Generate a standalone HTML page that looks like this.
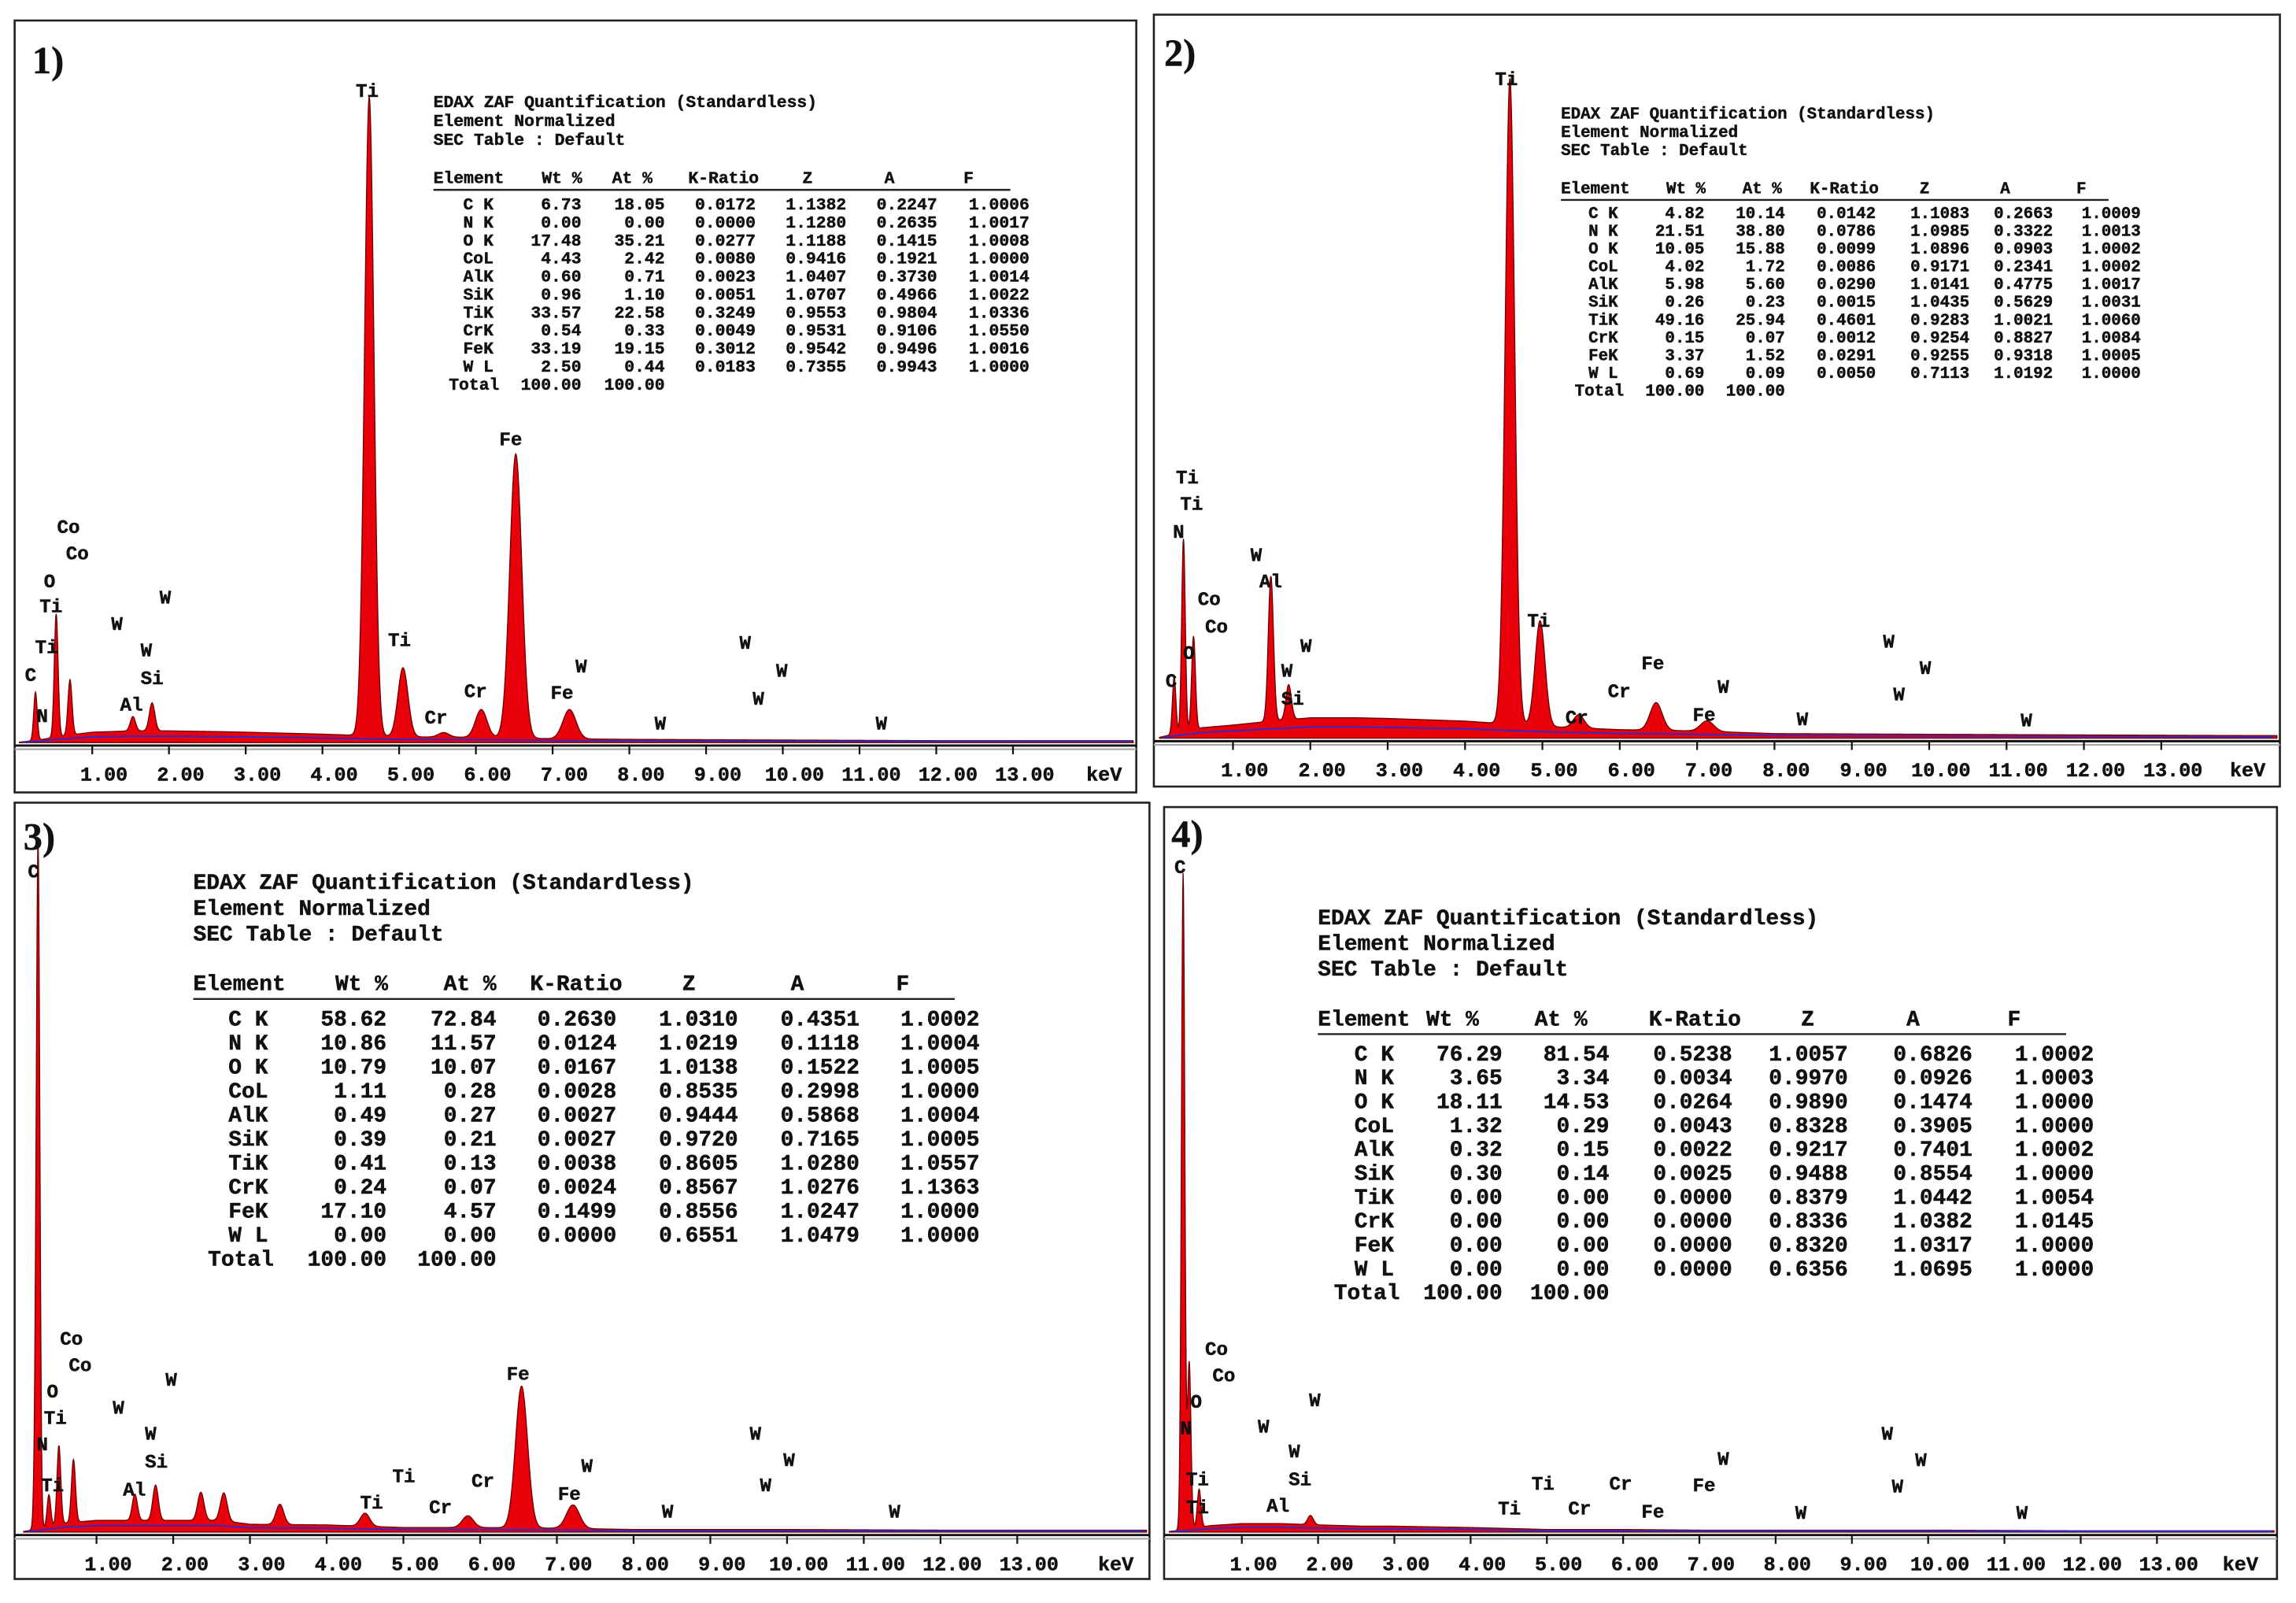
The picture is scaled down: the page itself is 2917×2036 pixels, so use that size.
<!DOCTYPE html>
<html><head><meta charset="utf-8"><style>
html,body{margin:0;padding:0;background:#fff;}
svg{display:block;}
text{font-family:"Liberation Mono",monospace;font-weight:bold;fill:#111;stroke:#111;stroke-width:0.25;}
</style></head><body>
<svg id="fig" xmlns="http://www.w3.org/2000/svg" width="2917" height="2036" viewBox="0 0 1568 1094.4" preserveAspectRatio="none"></svg>
<script>
// ---- Data ----
const elementRows = ["C K","N K","O K","CoL","AlK","SiK","TiK","CrK","FeK","W L","Total"];
const bgKeV = [0,0.3,0.6,1,1.5,2,2.6,3,4,5,6,7,8,10,12,14.2];
// Panel 1
const p1PeakKeV = [0.26,0.53,0.71,1.53,1.78,4.61,5.05,5.58,6.07,6.52,7.22];
const p1PeakCounts = [74,189,85,22,43,980,106,7,43,436,45];
const p1Bg = [0,4,10,16,18,18,17,16,13,9,8,6,5,4,3,3];
const p1Wt = ["6.73","0.00","17.48","4.43","0.60","0.96","33.57","0.54","33.19","2.50","100.00"];
const p1At = ["18.05","0.00","35.21","2.42","0.71","1.10","22.58","0.33","19.15","0.44","100.00"];
const p1K = ["0.0172","0.0000","0.0277","0.0080","0.0023","0.0051","0.3249","0.0049","0.3012","0.0183"];
const p1Z = ["1.1382","1.1280","1.1188","0.9416","1.0407","1.0707","0.9553","0.9531","0.9542","0.7355"];
const p1A = ["0.2247","0.2635","0.1415","0.1921","0.3730","0.4966","0.9804","0.9106","0.9496","0.9943"];
const p1F = ["1.0006","1.0017","1.0008","1.0000","1.0014","1.0022","1.0336","1.0550","1.0016","1.0000"];
// Panel 2
const p2PeakKeV = [0.24,0.36,0.49,1.49,1.72,4.58,4.97,5.47,6.47,7.13];
const p2PeakCounts = [87,293,142,220,53,980,160,20,42,16];
const p2Bg = [0,8,16,20,26,31,31,30,26,18,13,11,7,6,5,4];
const p2Wt = ["4.82","21.51","10.05","4.02","5.98","0.26","49.16","0.15","3.37","0.69","100.00"];
const p2At = ["10.14","38.80","15.88","1.72","5.60","0.23","25.94","0.07","1.52","0.09","100.00"];
const p2K = ["0.0142","0.0786","0.0099","0.0086","0.0290","0.0015","0.4601","0.0012","0.0291","0.0050"];
const p2Z = ["1.1083","1.0985","1.0896","0.9171","1.0141","1.0435","0.9283","0.9254","0.9255","0.7113"];
const p2A = ["0.2663","0.3322","0.0903","0.2341","0.4775","0.5629","1.0021","0.8827","0.9318","1.0192"];
const p2F = ["1.0009","1.0013","1.0002","1.0002","1.0017","1.0031","1.0060","1.0084","1.0005","1.0000"];
// Panel 3
const p3PeakKeV = [0.21,0.24,0.38,0.51,0.70,1.50,1.77,2.36,2.66,3.39,4.50,5.84,6.54,7.21];
const p3PeakCounts = [150,993,49,121,96,40,54,43,43,31,20,18,217,36];
const p3Bg = [0,6,14,18,18,18,18,12,11,7,7,6,4,4,3,3];
const p3Wt = ["58.62","10.86","10.79","1.11","0.49","0.39","0.41","0.24","17.10","0.00","100.00"];
const p3At = ["72.84","11.57","10.07","0.28","0.27","0.21","0.13","0.07","4.57","0.00","100.00"];
const p3K = ["0.2630","0.0124","0.0167","0.0028","0.0027","0.0027","0.0038","0.0024","0.1499","0.0000"];
const p3Z = ["1.0310","1.0219","1.0138","0.8535","0.9444","0.9720","0.8605","0.8567","0.8556","0.6551"];
const p3A = ["0.4351","0.1118","0.1522","0.2998","0.5868","0.7165","1.0280","1.0276","1.0247","1.0479"];
const p3F = ["1.0002","1.0004","1.0005","1.0000","1.0004","1.0005","1.0557","1.1363","1.0000","1.0000"];
// Panel 4
const p4PeakKeV = [0.23,0.31,0.44,1.9];
const p4PeakCounts = [1000,254,58,14];
const p4Bg = [0,5,10,13,13,11,9,9,7,4,4,3,3,3,2,2];
const p4Wt = ["76.29","3.65","18.11","1.32","0.32","0.30","0.00","0.00","0.00","0.00","100.00"];
const p4At = ["81.54","3.34","14.53","0.29","0.15","0.14","0.00","0.00","0.00","0.00","100.00"];
const p4K = ["0.5238","0.0034","0.0264","0.0043","0.0022","0.0025","0.0000","0.0000","0.0000","0.0000"];
const p4Z = ["1.0057","0.9970","0.9890","0.8328","0.9217","0.9488","0.8379","0.8336","0.8320","0.6356"];
const p4A = ["0.6826","0.0926","0.1474","0.3905","0.7401","0.8554","1.0442","1.0382","1.0317","1.0695"];
const p4F = ["1.0002","1.0003","1.0000","1.0000","1.0002","1.0000","1.0054","1.0145","1.0000","1.0000"];
const tickLabels = ["1.00","2.00","3.00","4.00","5.00","6.00","7.00","8.00","9.00","10.00","11.00","12.00","13.00"];

const p1Labels = [["Ti",243,66],["Fe",341,304],["Co",39,364],["Co",45,382],["O",30,401],["Ti",27,418],["Ti",24,446],["C",17,465],["N",25,493],["W",76,430],["W",109,412],["W",96,448],["Si",96,467],["Al",82,485],["Ti",265,441],["Cr",317,476],["Cr",290,494],["Fe",376,477],["W",393,459],["W",505,443],["W",530,462],["W",514,481],["W",447,498],["W",598,498]];
const p2Labels = [["Ti",1021,58],["Ti",803,330],["Ti",806,348],["N",801,367],["Co",818,413],["Co",823,432],["O",808,450],["C",796,469],["W",854,383],["Al",860,401],["W",888,445],["W",875,462],["Si",875,481],["Ti",1043,428],["Fe",1121,457],["Cr",1098,476],["Fe",1156,492],["W",1173,473],["W",1286,442],["W",1311,460],["W",1293,478],["W",1227,495],["W",1380,496],["Cr",1069,494]];
const p3Labels = [["C",19,599],["Co",41,918],["Co",47,936],["O",32,954],["Ti",30,972],["N",25,990],["Ti",28,1018],["W",77,965],["W",113,946],["W",99,983],["Si",99,1002],["Al",84,1021],["Fe",346,942],["Ti",268,1012],["Ti",246,1030],["Cr",322,1015],["Cr",293,1033],["Fe",381,1024],["W",397,1005],["W",512,983],["W",535,1001],["W",519,1018],["W",452,1036],["W",607,1036]];
const p4Labels = [["C",802,596],["Co",823,925],["Co",828,943],["O",813,961],["N",806,979],["Ti",810,1014],["Ti",810,1033],["W",859,978],["W",894,960],["W",880,995],["Si",880,1014],["Al",865,1032],["Ti",1046,1017],["Ti",1023,1034],["Cr",1099,1017],["Cr",1071,1034],["Fe",1156,1018],["Fe",1121,1036],["W",1173,1000],["W",1285,983],["W",1308,1001],["W",1292,1019],["W",1226,1037],["W",1377,1037]];

// ---- Layout (geometry only) ----
const panels = [
 {id:1,box:[10,14,776,541],lab:[22,50],x0:10.6,ppk:52.4,base:507,top:62,kevX:754,peakK:p1PeakKeV,peakC:p1PeakCounts,bg:p1Bg,labels:p1Labels,
  cols:[p1Wt,p1At,p1K,p1Z,p1A,p1F],tx:296,t0:73,tlh:13,hy:125,ulEnd:690,r0:143,rh:12.3,colR:[337,397,454,516,578,640,703],hdr:[296,370,418,470,548,604,658],fs:11.5},
 {id:2,box:[788,10,1557,537],lab:[795,45],x0:789.2,ppk:52.83,base:504,top:54,kevX:1535,peakK:p2PeakKeV,peakC:p2PeakCounts,bg:p2Bg,labels:p2Labels,
  cols:[p2Wt,p2At,p2K,p2Z,p2A,p2F],tx:1066,t0:81,tlh:12.5,hy:132,ulEnd:1440,r0:149,rh:12.1,colR:[1105,1164,1219,1281,1345,1402,1462],hdr:[1066,1138,1190,1236,1311,1366,1418],fs:11.2},
 {id:3,box:[10,548,785,1078],lab:[16,580],x0:13.5,ppk:52.4,base:1046,top:600,kevX:762,peakK:p3PeakKeV,peakC:p3PeakCounts,bg:p3Bg,labels:p3Labels,
  cols:[p3Wt,p3At,p3K,p3Z,p3A,p3F],tx:132,t0:607,tlh:17.5,hy:676,ulEnd:652,r0:700,rh:16.4,colR:[183,264,339,421,504,587,669],hdr:[132,229,303,362,466,540,612],fs:15},
 {id:4,box:[795,551,1555,1078],lab:[800,578],x0:796,ppk:52.08,base:1046,top:598,kevX:1530,peakK:p4PeakKeV,peakC:p4PeakCounts,bg:p4Bg,labels:p4Labels,
  cols:[p4Wt,p4At,p4K,p4Z,p4A,p4F],tx:900,t0:631,tlh:17.5,hy:700,ulEnd:1411,r0:724,rh:16.3,colR:[952,1026,1099,1183,1262,1347,1430],hdr:[900,974,1048,1126,1230,1302,1371],fs:15}
];
const svg = document.getElementById('fig');
const NS = 'http://www.w3.org/2000/svg';
function mk(tag, attrs, parent){const e=document.createElementNS(NS,tag);for(const k in attrs)e.setAttribute(k,attrs[k]);(parent||svg).appendChild(e);return e;}
function interp(xs,ys,x){if(x<=xs[0])return ys[0];for(let i=1;i<xs.length;i++){if(x<=xs[i]){const t=(x-xs[i-1])/(xs[i]-xs[i-1]);return ys[i-1]+t*(ys[i]-ys[i-1]);}}return ys[ys.length-1];}

panels.forEach(p=>{
  const g = mk('g',{});
  
  
  const [bx1,by1,bx2,by2]=p.box;
  const frame = mk('rect',{x:bx1,y:by1,width:bx2-bx1,height:by2-by1,fill:'#fff',stroke:'#222','stroke-width':1.4},g);
  
  
  const xS = k => p.x0 + k*p.ppk;
  const yS = c => p.base - c*(p.base-p.top)/1000;
  const kMax = (bx2-2-p.x0)/p.ppk;
  const countAt = k => {let v=interp(bgKeV,p.bg,k);for(let i=0;i<p.peakK.length;i++){const s=0.02+0.009*p.peakK[i];const d=(k-p.peakK[i])/s;v+=p.peakC[i]*Math.exp(-0.5*d*d);}return v;};
  let d='M'+xS(0.05).toFixed(2)+' '+p.base;
  for(let k=0.05;k<=kMax;k+=0.005){d+=' L'+xS(k).toFixed(2)+' '+yS(countAt(k)).toFixed(2);}
  d+=' L'+xS(kMax).toFixed(2)+' '+p.base+' Z';
  const sp = mk('path',{d:d,fill:'#e8000b',stroke:'#6a0000','stroke-width':0.7},g);
  
  
  let bd='';
  for(let k=0.1;k<=kMax;k+=0.05){bd+=(bd?' L':'M')+xS(k).toFixed(2)+' '+yS(interp(bgKeV,p.bg,k)*0.55).toFixed(2);}
  const bl = mk('path',{d:bd,fill:'none',stroke:'#2a2ad0','stroke-width':1},g);
  
  
  const ax = mk('line',{x1:bx1,x2:bx2,y1:p.base+2,y2:p.base+2,stroke:'#111','stroke-width':1.6},g);
  
  
  mk('line',{x1:bx1,x2:bx2,y1:p.base+4.5,y2:p.base+4.5,stroke:'#aaa','stroke-width':1.2},g);
  tickLabels.forEach((t,i)=>{
    const k=i+1;
    mk('line',{x1:xS(k),x2:xS(k),y1:p.base+2,y2:p.base+8,stroke:'#111','stroke-width':1.2},g);
    const tl = mk('text',{x:xS(k)+8,y:p.base+26,'font-size':13.5,'text-anchor':'middle'},g);
    tl.textContent=t;
    
    
  });
  const kv = mk('text',{x:p.kevX,y:p.base+26,'font-size':13.5,'text-anchor':'middle'},g);
  kv.textContent='keV';
  
  
  const pl = mk('text',{x:p.lab[0],y:p.lab[1],'font-size':26,style:'font-family:"Liberation Serif",serif'},g);
  pl.textContent=p.id+')';
  
  
  p.labels.forEach(l=>{
    const t = mk('text',{x:l[1],y:l[2],'font-size':13},g);
    t.textContent=l[0];
    
    
  });
  const titles=["EDAX ZAF Quantification (Standardless)","Element Normalized","SEC Table : Default"];
  titles.forEach((s,i)=>{
    const t = mk('text',{x:p.tx,y:p.t0+i*p.tlh,'font-size':p.fs},g);
    t.textContent=s;
    
    
  });
  const hdrs=["Element","Wt %","At %","K-Ratio","Z","A","F"];
  hdrs.forEach((s,i)=>{
    const t = mk('text',{x:p.hdr[i],y:p.hy,'font-size':p.fs},g);
    t.textContent=s;
    
    
  });
  mk('line',{x1:p.tx,x2:p.ulEnd,y1:p.hy+p.fs*0.4,y2:p.hy+p.fs*0.4,stroke:'#222','stroke-width':1.3},g);
  elementRows.forEach((el,r)=>{
    const y=p.r0+r*p.rh;
    const e = mk('text',{x:p.colR[0]+(el==='Total'?4:0),y:y,'font-size':p.fs,'text-anchor':'end'},g);
    e.textContent=el;
    
    
    p.cols.forEach((col,ci)=>{
      if(col[r]===undefined)return;
      const t = mk('text',{x:p.colR[ci+1],y:y,'font-size':p.fs,'text-anchor':'end'},g);
      t.textContent=col[r];
      
      
    });
  });
});
</script>
</body></html>
